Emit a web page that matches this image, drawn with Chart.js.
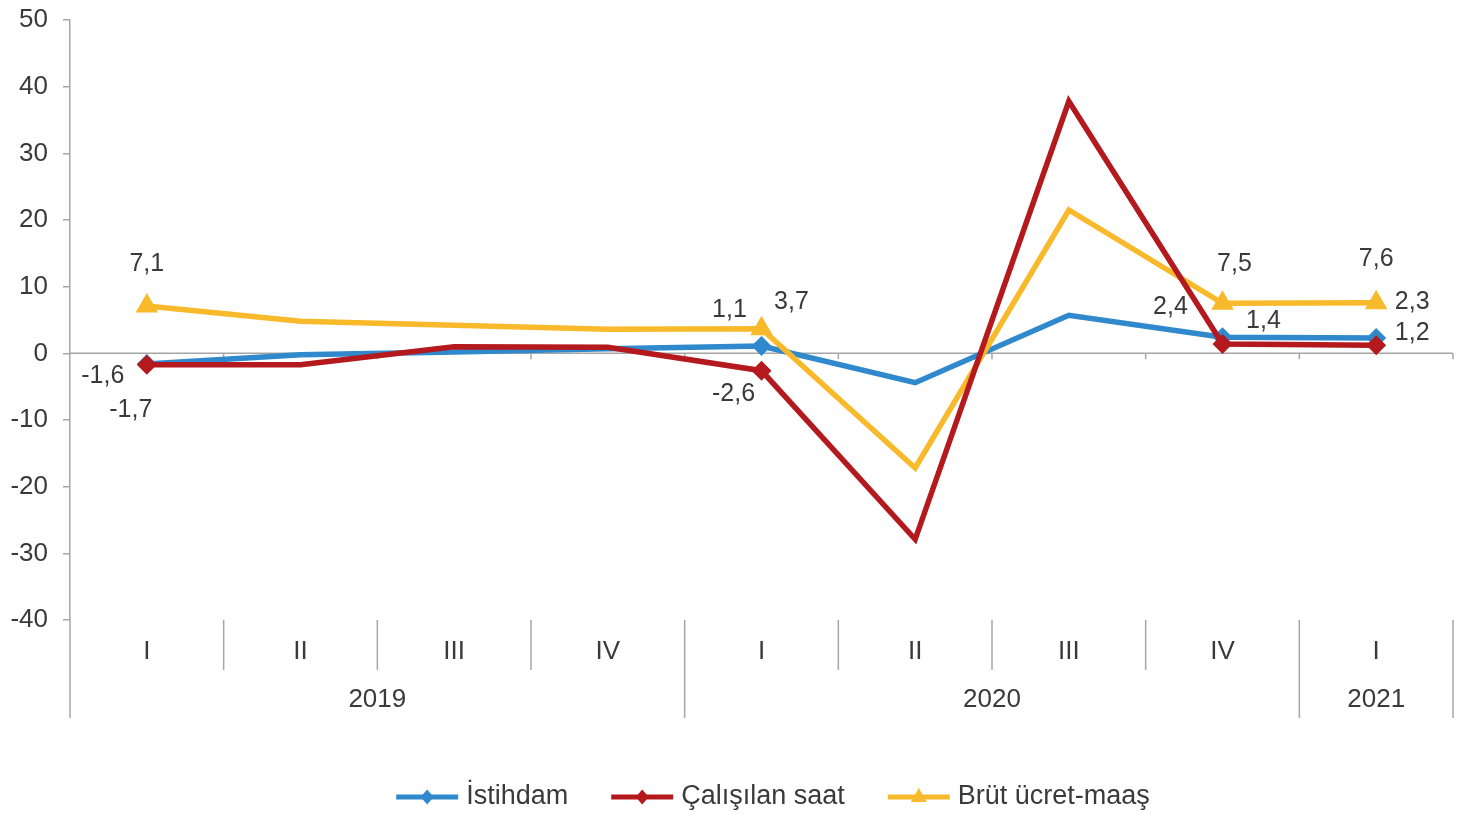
<!DOCTYPE html>
<html>
<head>
<meta charset="utf-8">
<script src="https://cdn.jsdelivr.net/npm/chart.js@4.4.1/dist/chart.umd.min.js"></script>
<style>
html,body{margin:0;padding:0;background:#fff;}
#c{display:block;}
</style>
</head>
<body>
<canvas id="c" width="1479" height="817"></canvas>
<script>
// ---- data ----
const quarters = ['I','II','III','IV','I','II','III','IV','I'];
const years = ['2019','2020','2021'];
const yearSpans = [4,4,1];
const istihdam = [-1.6,-0.2,0.2,0.7,1.1,-4.4,5.7,2.4,2.3];
const calisilanSaat = [-1.7,-1.7,1.0,0.9,-2.6,-27.9,37.8,1.4,1.2];
const brutUcret = [7.1,4.8,4.2,3.6,3.7,-17.2,21.5,7.5,7.6];
const seriesNames = ['İstihdam','Çalışılan saat','Brüt ücret-maaş'];
const labeledIdx = [0,4,7,8];
const yMin = -40, yMax = 50, yStep = 10;

// ---- styles ----
const FONT = "'Liberation Sans', Arial, sans-serif";
const TEXT = '#3a3a3a';
const AXIS = '#a6a6a6';
const COLORS = ['#2f89cc','#b3191d','#f8ba2a'];
const MARKERS = ['rectRot','rectRot','triangle'];
const MARKER_R = [10,10,13];
const labelOffsets = [
  [[-44,12],[-32,-36],[-52,-30],[36,-36]],
  [[-16,45],[-28,23],[41,-23],[36,-12]],
  [[0,-42],[30,-27],[12,-39],[0,-44]]
];
const fmt = v => v.toFixed(1).replace('.', ',');

const axesPlugin = {
  id: 'axesPlugin',
  beforeDatasetsDraw(chart) {
    const {ctx, chartArea: ca} = chart;
    const xs = chart.scales.x, ys = chart.scales.y;
    const step = xs.getPixelForValue(1) - xs.getPixelForValue(0);
    const y0 = ys.getPixelForValue(0);
    ctx.save();
    ctx.strokeStyle = AXIS;
    ctx.lineWidth = 1.5;
    ctx.beginPath();
    ctx.moveTo(ca.left, y0); ctx.lineTo(ca.right, y0);
    for (let i = 0; i < quarters.length; i++) {
      const bx = xs.getPixelForValue(i) + step / 2;
      ctx.moveTo(bx, y0); ctx.lineTo(bx, y0 + 6);
    }
    ctx.stroke();
    ctx.restore();
  },
  afterDraw(chart) {
    const {ctx, chartArea: ca} = chart;
    const xs = chart.scales.x;
    const step = xs.getPixelForValue(1) - xs.getPixelForValue(0);
    const top = ca.bottom, qBottom = ca.bottom + 50, yBottom = ca.bottom + 98;
    ctx.save();
    ctx.strokeStyle = AXIS;
    ctx.lineWidth = 1.5;
    ctx.beginPath();
    ctx.moveTo(ca.left, top); ctx.lineTo(ca.left, yBottom);
    let cum = 0; const yearEnds = new Set();
    yearSpans.forEach(s => { cum += s; yearEnds.add(cum - 1); });
    for (let i = 0; i < quarters.length; i++) {
      const bx = xs.getPixelForValue(i) + step / 2;
      ctx.moveTo(bx, top); ctx.lineTo(bx, yearEnds.has(i) ? yBottom : qBottom);
    }
    ctx.stroke();
    ctx.fillStyle = TEXT;
    ctx.font = `26px ${FONT}`;
    ctx.textAlign = 'center';
    ctx.textBaseline = 'middle';
    quarters.forEach((q, i) => ctx.fillText(q, xs.getPixelForValue(i), ca.bottom + 32));
    let startIdx = 0;
    years.forEach((y, k) => {
      const endIdx = startIdx + yearSpans[k] - 1;
      const cx = (xs.getPixelForValue(startIdx) + xs.getPixelForValue(endIdx)) / 2;
      ctx.fillText(y, cx, ca.bottom + 80);
      startIdx = endIdx + 1;
    });

    // data labels
    ctx.font = `25px ${FONT}`;
    chart.data.datasets.forEach((ds, di) => {
      const meta = chart.getDatasetMeta(di);
      labeledIdx.forEach((idx, k) => {
        const pt = meta.data[idx];
        const [dx, dy] = labelOffsets[di][k];
        ctx.fillText(fmt(ds.data[idx]), pt.x + dx, pt.y + dy);
      });
    });

    // legend
    const iconW = 62, gap = 8, itemGap = 43, cx = 773, ly = 797;
    ctx.font = `27px ${FONT}`;
    const widths = chart.data.datasets.map(ds => iconW + gap + ctx.measureText(ds.label).width);
    const total = widths.reduce((a, b) => a + b, 0) + itemGap * (widths.length - 1);
    let x = cx - total / 2;
    ctx.textAlign = 'left';
    chart.data.datasets.forEach((ds, di) => {
      ctx.strokeStyle = COLORS[di];
      ctx.fillStyle = COLORS[di];
      ctx.lineWidth = 5;
      ctx.beginPath(); ctx.moveTo(x, ly); ctx.lineTo(x + iconW, ly); ctx.stroke();
      const mx = x + iconW / 2;
      ctx.beginPath();
      if (MARKERS[di] === 'triangle') {
        ctx.moveTo(mx, ly - 9); ctx.lineTo(mx + 8, ly + 5); ctx.lineTo(mx - 8, ly + 5);
      } else {
        ctx.moveTo(mx, ly - 7.5); ctx.lineTo(mx + 6.5, ly); ctx.lineTo(mx, ly + 7.5); ctx.lineTo(mx - 6.5, ly);
      }
      ctx.closePath(); ctx.fill();
      ctx.fillStyle = TEXT;
      ctx.fillText(ds.label, x + iconW + gap, ly);
      x += widths[di] + itemGap;
    });
    ctx.restore();
  }
};

const seriesData = [istihdam, calisilanSaat, brutUcret];
const drawOrder = [2, 0, 1];
const datasets = seriesData.map((d, i) => ({
  label: seriesNames[i],
  data: d,
  borderColor: COLORS[i],
  backgroundColor: COLORS[i],
  borderWidth: 5.5,
  tension: 0,
  order: drawOrder[i],
  pointStyle: MARKERS[i],
  pointRadius: c => labeledIdx.includes(c.dataIndex) ? MARKER_R[i] : 0,
  pointHoverRadius: 0,
  pointBorderWidth: 0,
  pointBackgroundColor: COLORS[i],
  pointBorderColor: COLORS[i]
}));

new Chart(document.getElementById('c'), {
  type: 'line',
  data: { labels: quarters, datasets },
  options: {
    responsive: false,
    animation: false,
    devicePixelRatio: 1,
    layout: { padding: { left: 0, right: 26, top: 20, bottom: 197 } },
    plugins: { legend: { display: false }, tooltip: { enabled: false } },
    scales: {
      x: { display: false, offset: true },
      y: {
        min: yMin, max: yMax,
        afterFit: s => { s.width = 70; s.paddingTop = 0; s.paddingBottom = 0; },
        border: { display: true, color: AXIS, width: 1.5 },
        grid: { display: true, drawOnChartArea: false, drawTicks: true, tickLength: 7, color: AXIS, lineWidth: 1.5 },
        ticks: { stepSize: yStep, padding: 15, color: TEXT, font: { family: FONT, size: 26 } }
      }
    }
  },
  plugins: [axesPlugin]
});
</script>
</body>
</html>
